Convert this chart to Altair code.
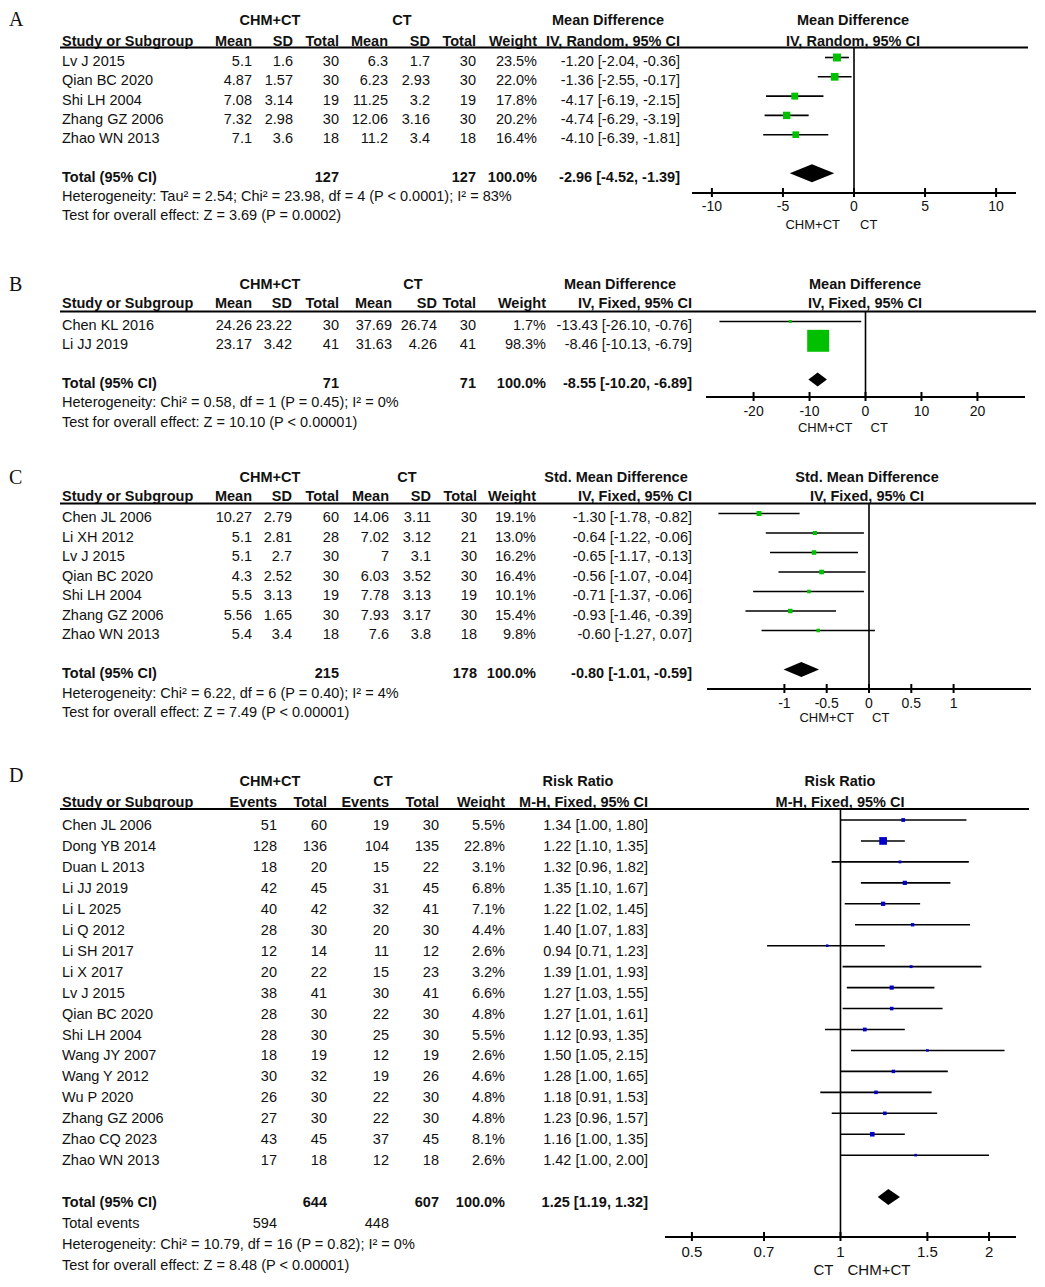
import altair as alt
import pandas as pd

FONT = "Liberation Sans, Arial, Helvetica, sans-serif"
SERIF = "Liberation Serif, Times New Roman, serif"
W = 1029
M = 8
GREEN = "#00C000"
BLUE = "#0000C8"
BODY = 14.5

# ---------------- Panel A data ----------------
a_study = ["Lv J 2015", "Qian BC 2020", "Shi LH 2004", "Zhang GZ 2006", "Zhao WN 2013"]
a_m1 = [5.1, 4.87, 7.08, 7.32, 7.1]
a_sd1 = [1.6, 1.57, 3.14, 2.98, 3.6]
a_n1 = [30, 30, 19, 30, 18]
a_m2 = [6.3, 6.23, 11.25, 12.06, 11.2]
a_sd2 = [1.7, 2.93, 3.2, 3.16, 3.4]
a_n2 = [30, 30, 19, 30, 18]
a_w = [23.5, 22.0, 17.8, 20.2, 16.4]
a_est = [-1.20, -1.36, -4.17, -4.74, -4.10]
a_lo = [-2.04, -2.55, -6.19, -6.29, -6.39]
a_hi = [-0.36, -0.17, -2.15, -3.19, -1.81]
a_tot = [127, 127, 100.0, -2.96, -4.52, -1.39]
a_het = "Heterogeneity: Tau\u00b2 = 2.54; Chi\u00b2 = 23.98, df = 4 (P < 0.0001); I\u00b2 = 83%"
a_test = "Test for overall effect: Z = 3.69 (P = 0.0002)"
a_ticks = [-10, -5, 0, 5, 10]

# ---------------- Panel B data ----------------
b_study = ["Chen KL 2016", "Li JJ 2019"]
b_m1 = [24.26, 23.17]
b_sd1 = [23.22, 3.42]
b_n1 = [30, 41]
b_m2 = [37.69, 31.63]
b_sd2 = [26.74, 4.26]
b_n2 = [30, 41]
b_w = [1.7, 98.3]
b_est = [-13.43, -8.46]
b_lo = [-26.10, -10.13]
b_hi = [-0.76, -6.79]
b_tot = [71, 71, 100.0, -8.55, -10.20, -6.89]
b_het = "Heterogeneity: Chi\u00b2 = 0.58, df = 1 (P = 0.45); I\u00b2 = 0%"
b_test = "Test for overall effect: Z = 10.10 (P < 0.00001)"
b_ticks = [-20, -10, 0, 10, 20]

# ---------------- Panel C data ----------------
c_study = ["Chen JL 2006", "Li XH 2012", "Lv J 2015", "Qian BC 2020", "Shi LH 2004",
           "Zhang GZ 2006", "Zhao WN 2013"]
c_m1 = [10.27, 5.1, 5.1, 4.3, 5.5, 5.56, 5.4]
c_sd1 = [2.79, 2.81, 2.7, 2.52, 3.13, 1.65, 3.4]
c_n1 = [60, 28, 30, 30, 19, 30, 18]
c_m2 = [14.06, 7.02, 7, 6.03, 7.78, 7.93, 7.6]
c_sd2 = [3.11, 3.12, 3.1, 3.52, 3.13, 3.17, 3.8]
c_n2 = [30, 21, 30, 30, 19, 30, 18]
c_w = [19.1, 13.0, 16.2, 16.4, 10.1, 15.4, 9.8]
c_est = [-1.30, -0.64, -0.65, -0.56, -0.71, -0.93, -0.60]
c_lo = [-1.78, -1.22, -1.17, -1.07, -1.37, -1.46, -1.27]
c_hi = [-0.82, -0.06, -0.13, -0.04, -0.06, -0.39, 0.07]
c_tot = [215, 178, 100.0, -0.80, -1.01, -0.59]
c_het = "Heterogeneity: Chi\u00b2 = 6.22, df = 6 (P = 0.40); I\u00b2 = 4%"
c_test = "Test for overall effect: Z = 7.49 (P < 0.00001)"
c_ticks = [-1, -0.5, 0, 0.5, 1]

# ---------------- Panel D data ----------------
d_study = ["Chen JL 2006", "Dong YB 2014", "Duan L 2013", "Li JJ 2019", "Li L 2025", "Li Q 2012",
           "Li SH 2017", "Li X 2017", "Lv J 2015", "Qian BC 2020", "Shi LH 2004", "Wang JY 2007",
           "Wang Y 2012", "Wu P 2020", "Zhang GZ 2006", "Zhao CQ 2023", "Zhao WN 2013"]
d_e1 = [51, 128, 18, 42, 40, 28, 12, 20, 38, 28, 28, 18, 30, 26, 27, 43, 17]
d_n1 = [60, 136, 20, 45, 42, 30, 14, 22, 41, 30, 30, 19, 32, 30, 30, 45, 18]
d_e2 = [19, 104, 15, 31, 32, 20, 11, 15, 30, 22, 25, 12, 19, 22, 22, 37, 12]
d_n2 = [30, 135, 22, 45, 41, 30, 12, 23, 41, 30, 30, 19, 26, 30, 30, 45, 18]
d_w = [5.5, 22.8, 3.1, 6.8, 7.1, 4.4, 2.6, 3.2, 6.6, 4.8, 5.5, 2.6, 4.6, 4.8, 4.8, 8.1, 2.6]
d_est = [1.34, 1.22, 1.32, 1.35, 1.22, 1.40, 0.94, 1.39, 1.27, 1.27, 1.12, 1.50, 1.28, 1.18,
         1.23, 1.16, 1.42]
d_lo = [1.00, 1.10, 0.96, 1.10, 1.02, 1.07, 0.71, 1.01, 1.03, 1.01, 0.93, 1.05, 1.00, 0.91,
        0.96, 1.00, 1.00]
d_hi = [1.80, 1.35, 1.82, 1.67, 1.45, 1.83, 1.23, 1.93, 1.55, 1.61, 1.35, 2.15, 1.65, 1.53,
        1.57, 1.35, 2.00]
d_tot = [644, 607, 100.0, 1.25, 1.19, 1.32]
d_events = [594, 448]
d_het = "Heterogeneity: Chi\u00b2 = 10.79, df = 16 (P = 0.82); I\u00b2 = 0%"
d_test = "Test for overall effect: Z = 8.48 (P < 0.00001)"
d_ticks = [0.5, 0.7, 1, 1.5, 2]


def g(v):
    return f"{v:g}"


def pct(v):
    return f"{v:.1f}%"


def ci(e, lo, hi):
    return f"{e:.2f} [{lo:.2f}, {hi:.2f}]"


def build(P):
    top, y0, sp = P["top"], P["y0"], P["sp"]

    def row(ypx):
        return (ypx - y0) / sp

    ysc = alt.Scale(domain=[0, 1], range=[y0 - top, y0 - top + sp], nice=False, zero=False)
    xid = alt.Scale(domain=[0, W], range=[0, W], nice=False, zero=False)
    fx = alt.Scale(type=P["stype"], domain=P["dom"], range=[P["rng"][0] - M, P["rng"][1] - M],
                   nice=False, zero=False)
    cols = P["cols"]
    recs = []

    def add(text, x, r, align="right", bold=False, size=BODY):
        recs.append(dict(text=str(text), x=x - M, row=r, align=align, bold=bold, size=size))

    # header rows
    h1 = row(P["h1y"])
    for t, xc in P["hdr1"]:
        add(t, xc, h1, "center", True)
    h2 = row(P["h2y"])
    add("Study or Subgroup", 62, h2, "left", True)
    for t, xc in zip(P["hdr2"], cols):
        add(t, xc, h2, "right", True)
    add(P["hdr2"][-1], P["rhc"], h2, "center", True)

    # study rows
    n = len(P["study"])
    for i in range(n):
        add(P["study"][i], 62, i, "left")
        for j, cells in enumerate(P["cells"]):
            add(cells[i], cols[j], i)
    # total row
    tr = n + 1
    add("Total (95% CI)", 62, tr, "left", True)
    for txt, cj in zip(P["tot_txt"], P["tot_cols"]):
        add(txt, cols[cj], tr, "right", True)
    nr = tr + 1
    if P.get("events"):
        add("Total events", 62, nr, "left")
        for txt, cj in zip(P["events"], P["ev_cols"]):
            add(txt, cols[cj], nr)
        nr += 1
    add(P["het"], 62, nr, "left")
    add(P["test"], 62, nr + 1, "left")

    layers = []
    df = pd.DataFrame(recs)
    for (align, bold, size), sub in df.groupby(["align", "bold", "size"]):
        layers.append(
            alt.Chart(sub).mark_text(align=align, baseline="middle",
                                     fontWeight="bold" if bold else "normal",
                                     fontSize=float(size), font=FONT, color="#111")
            .encode(x=alt.X("x:Q", scale=xid, axis=None),
                    y=alt.Y("row:Q", scale=ysc, axis=None),
                    text="text:N"))

    one = pd.DataFrame({"v": [P["zero"]]})
    # header line
    layers.append(alt.Chart(one).mark_rule(color="black", strokeWidth=2).encode(
        x=alt.value(60 - M), x2=alt.value(P["line_end"] - M), y=alt.value(P["line_y"] - top)))
    # zero line
    layers.append(alt.Chart(one).mark_rule(color="black", strokeWidth=1.6).encode(
        x=alt.X("v:Q", scale=fx, axis=None),
        y=alt.value(P["line_y"] - top), y2=alt.value(P["axis_y"] - top)))
    # axis line
    ax = pd.DataFrame({"a": [P["dom"][0]], "b": [P["dom"][1]]})
    layers.append(alt.Chart(ax).mark_rule(color="black", strokeWidth=2).encode(
        x=alt.X("a:Q", scale=fx, axis=None), x2="b:Q", y=alt.value(P["axis_y"] - top)))
    # ticks
    tk = pd.DataFrame({"t": P["ticks"], "lab": [g(t) for t in P["ticks"]]})
    layers.append(alt.Chart(tk).mark_rule(color="black", strokeWidth=2).encode(
        x=alt.X("t:Q", scale=fx, axis=None),
        y=alt.value(P["axis_y"] - top - 5), y2=alt.value(P["axis_y"] - top + 4)))
    layers.append(alt.Chart(tk).mark_text(font=FONT, fontSize=P["tfs"], color="#111",
                                          baseline="middle", align="center").encode(
        x=alt.X("t:Q", scale=fx, axis=None), y=alt.value(P["tick_y"] - top), text="lab:N"))
    # direction labels
    for txt, align, dx in P["dirs"]:
        layers.append(alt.Chart(one).mark_text(text=txt, font=FONT, fontSize=P["dfs"], color="#111",
                                               baseline="middle", align=align, dx=dx).encode(
            x=alt.X("v:Q", scale=fx, axis=None), y=alt.value(P["dir_y"] - top)))

    # forest data
    off = P["moff"] / sp
    fd = pd.DataFrame({"lo": P["lo"], "hi": P["hi"], "est": P["est"],
                       "r": [i - off for i in range(n)],
                       "s": [w * P["k"] for w in P["w"]]})
    layers.append(alt.Chart(fd).mark_rule(color="black", strokeWidth=1.6).encode(
        x=alt.X("lo:Q", scale=fx, axis=None), x2="hi:Q",
        y=alt.Y("r:Q", scale=ysc, axis=None)))
    layers.append(alt.Chart(fd).mark_square(color=P["color"], filled=True, opacity=1).encode(
        x=alt.X("est:Q", scale=fx, axis=None), y=alt.Y("r:Q", scale=ysc, axis=None),
        size=alt.Size("s:Q", scale=None)))
    # diamond
    te, tl, th = P["tot_ci"]
    rc = tr - off
    dh = P["dh"] / sp
    dd = pd.DataFrame({"x": [tl, te, th], "ya": [rc, rc - dh, rc], "yb": [rc, rc + dh, rc]})
    layers.append(alt.Chart(dd).mark_area(color="black", orient="vertical", opacity=1).encode(
        x=alt.X("x:Q", scale=fx, axis=None), y=alt.Y("ya:Q", scale=ysc, axis=None), y2="yb:Q"))
    # panel letter
    layers.append(alt.Chart(one).mark_text(text=P["letter"], font=SERIF, fontSize=20, color="#111",
                                           align="left", baseline="middle").encode(
        x=alt.value(1), y=alt.value(P["letter_y"] - top)))

    return alt.layer(*layers).resolve_scale(x="independent", y="independent",
                                            size="independent").properties(width=W, height=P["h"])


def mdcells(m1, sd1, n1, m2, sd2, n2, w, est, lo, hi):
    return [[g(v) for v in m1], [g(v) for v in sd1], [str(v) for v in n1],
            [g(v) for v in m2], [g(v) for v in sd2], [str(v) for v in n2],
            [pct(v) for v in w], [ci(e, l, h) for e, l, h in zip(est, lo, hi)]]


PA = dict(letter="A", letter_y=20, top=8, h=254, y0=62, sp=19.3, moff=4.5,
          h1y=21, h2y=42, line_y=47.5, line_end=1028,
          hdr1=[("CHM+CT", 270), ("CT", 402), ("Mean Difference", 608), ("Mean Difference", 853)],
          hdr2=["Mean", "SD", "Total", "Mean", "SD", "Total", "Weight", "IV, Random, 95% CI"],
          rhc=853, cols=[252, 293, 339, 388, 430, 476, 537, 680],
          study=a_study,
          cells=mdcells(a_m1, a_sd1, a_n1, a_m2, a_sd2, a_n2, a_w, a_est, a_lo, a_hi),
          tot_txt=[str(a_tot[0]), str(a_tot[1]), pct(a_tot[2]), ci(*a_tot[3:])], tot_cols=[2, 5, 6, 7],
          tot_ci=a_tot[3:], het=a_het, test=a_test,
          stype="linear", dom=[-11.4, 11.4], rng=[692, 1016], zero=0, ticks=a_ticks,
          axis_y=193, tick_y=207, dir_y=225, tfs=14, dfs=13,
          dirs=[("CHM+CT", "right", -14), ("CT", "left", 6)],
          est=a_est, lo=a_lo, hi=a_hi, w=a_w, k=2.7, color=GREEN, dh=9)

PB = dict(letter="B", letter_y=285, top=262, h=193, y0=326, sp=19.3, moff=4.5,
          h1y=285, h2y=304, line_y=311.5, line_end=1036,
          hdr1=[("CHM+CT", 270), ("CT", 413), ("Mean Difference", 620), ("Mean Difference", 865)],
          hdr2=["Mean", "SD", "Total", "Mean", "SD", "Total", "Weight", "IV, Fixed, 95% CI"],
          rhc=865, cols=[252, 292, 339, 392, 437, 476, 546, 692],
          study=b_study,
          cells=mdcells(b_m1, b_sd1, b_n1, b_m2, b_sd2, b_n2, b_w, b_est, b_lo, b_hi),
          tot_txt=[str(b_tot[0]), str(b_tot[1]), pct(b_tot[2]), ci(*b_tot[3:])], tot_cols=[2, 5, 6, 7],
          tot_ci=b_tot[3:], het=b_het, test=b_test,
          stype="linear", dom=[-28.5, 28.5], rng=[706, 1025], zero=0, ticks=b_ticks,
          axis_y=397, tick_y=412, dir_y=428, tfs=14, dfs=13,
          dirs=[("CHM+CT", "right", -13), ("CT", "left", 5)],
          est=b_est, lo=b_lo, hi=b_hi, w=b_w, k=4.9, color=GREEN, dh=7)

PC = dict(letter="C", letter_y=478, top=455, h=297, y0=518, sp=19.5, moff=4.5,
          h1y=478, h2y=497, line_y=503.5, line_end=1036,
          hdr1=[("CHM+CT", 270), ("CT", 407), ("Std. Mean Difference", 616),
                ("Std. Mean Difference", 867)],
          hdr2=["Mean", "SD", "Total", "Mean", "SD", "Total", "Weight", "IV, Fixed, 95% CI"],
          rhc=867, cols=[252, 292, 339, 389, 431, 477, 536, 692],
          study=c_study,
          cells=mdcells(c_m1, c_sd1, c_n1, c_m2, c_sd2, c_n2, c_w, c_est, c_lo, c_hi),
          tot_txt=[str(c_tot[0]), str(c_tot[1]), pct(c_tot[2]), ci(*c_tot[3:])], tot_cols=[2, 5, 6, 7],
          tot_ci=c_tot[3:], het=c_het, test=c_test,
          stype="linear", dom=[-1.915, 1.915], rng=[707, 1031], zero=0, ticks=c_ticks,
          axis_y=689, tick_y=704, dir_y=718, tfs=14, dfs=13,
          dirs=[("CHM+CT", "right", -15), ("CT", "left", 3)],
          est=c_est, lo=c_lo, hi=c_hi, w=c_w, k=1.3, color=GREEN, dh=7.5)

PD = dict(letter="D", letter_y=776, top=752, h=522, y0=826, sp=20.95, moff=6,
          h1y=782, h2y=803, line_y=809, line_end=1029,
          hdr1=[("CHM+CT", 270), ("CT", 383), ("Risk Ratio", 578), ("Risk Ratio", 840)],
          hdr2=["Events", "Total", "Events", "Total", "Weight", "M-H, Fixed, 95% CI"],
          rhc=840, cols=[277, 327, 389, 439, 505, 648],
          study=d_study,
          cells=[[str(v) for v in d_e1], [str(v) for v in d_n1], [str(v) for v in d_e2],
                 [str(v) for v in d_n2], [pct(v) for v in d_w],
                 [ci(e, l, h) for e, l, h in zip(d_est, d_lo, d_hi)]],
          tot_txt=[str(d_tot[0]), str(d_tot[1]), pct(d_tot[2]), ci(*d_tot[3:])], tot_cols=[1, 3, 4, 5],
          tot_ci=d_tot[3:], events=[str(v) for v in d_events], ev_cols=[0, 2],
          het=d_het, test=d_test,
          stype="log", dom=[0.441, 2.268], rng=[665, 1016], zero=1, ticks=d_ticks,
          axis_y=1237, tick_y=1252, dir_y=1270, tfs=15, dfs=15,
          dirs=[("CT", "right", -7), ("CHM+CT", "left", 7)],
          est=d_est, lo=d_lo, hi=d_hi, w=d_w, k=2.6, color=BLUE, dh=8)

chart = alt.vconcat(build(PA), build(PB), build(PC), build(PD), spacing=0).properties(
    padding=0, bounds="flush", background="white").configure_view(stroke=None)

chart.save("out.html", embed_options={"renderer": "svg", "actions": False})
